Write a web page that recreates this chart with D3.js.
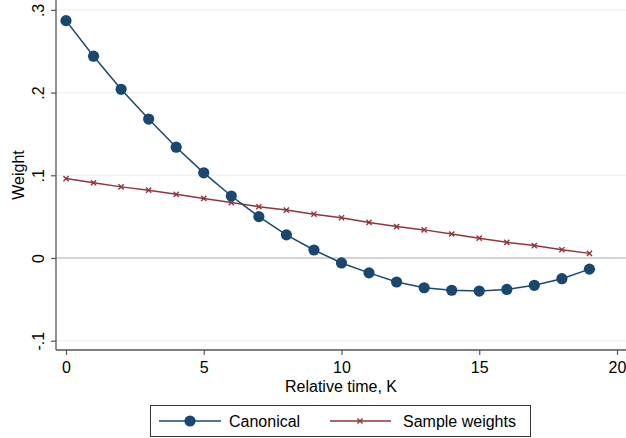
<!DOCTYPE html>
<html><head><meta charset="utf-8">
<script src="https://cdn.jsdelivr.net/npm/d3@7"></script>
<style>body{margin:0;background:#fff}svg{display:block}text{font-family:"Liberation Sans",Arial,sans-serif}</style>
</head><body>
<script>
const ks = [0,1,2,3,4,5,6,7,8,9,10,11,12,13,14,15,16,17,18,19];
const canonical = [0.287,0.244,0.204,0.168,0.134,0.103,0.075,0.050,0.028,0.0097,-0.006,-0.018,-0.029,-0.036,-0.039,-0.040,-0.038,-0.033,-0.025,-0.0135];
const sampleWeights = [0.096,0.091,0.086,0.082,0.077,0.072,0.067,0.062,0.058,0.053,0.0487,0.043,0.038,0.034,0.029,0.024,0.019,0.015,0.010,0.0056];
const xTicks = [0,5,10,15,20];
const yTicks = [-0.1,0,0.1,0.2,0.3];
const yTickLabels = ["-.1","0",".1",".2",".3"];
const seriesNames = ["Canonical","Sample weights"];
const colors = ["#1a476f","#90353b"];

(function(){
const W=626,H=438,FS=16;
const svg=d3.select("body").append("svg").attr("width",W).attr("height",H);
const pL=56,pR=626,pT=0,pB=350;
const x=d3.scaleLinear().domain([0,20]).range([66,617]);
const y=d3.scaleLinear().domain([0,0.1]).range([258,175.3]);

svg.append("g").selectAll("line").data(yTicks.filter(d=>d!==0)).join("line")
  .attr("x1",pL).attr("x2",pR).attr("y1",d=>y(d)).attr("y2",d=>y(d))
  .attr("stroke","#eaf2f3").attr("stroke-width",1.2);
svg.append("line").attr("x1",pL).attr("x2",pR).attr("y1",y(0)).attr("y2",y(0))
  .attr("stroke","#a8a8a8").attr("stroke-width",1.2);

const yAxis=d3.axisLeft(y).tickValues(yTicks).tickFormat((d,i)=>yTickLabels[i]).tickSize(5).tickSizeOuter(0);
const gy=svg.append("g").attr("transform",`translate(${pL},0)`).call(yAxis);
gy.select(".domain").attr("d",`M0,${pT}V${pB}`).attr("stroke","#555").attr("stroke-width",1.3);
gy.selectAll(".tick line").attr("stroke","#555").attr("stroke-width",1.2);
gy.selectAll(".tick text").attr("font-size",FS).attr("fill","#000").attr("text-anchor","middle")
  .attr("transform","translate(-18,0) rotate(-90)").attr("x",0).attr("y",0).attr("dy","0.35em");

const xAxis=d3.axisBottom(x).tickValues(xTicks).tickFormat(d3.format("d")).tickSize(5).tickSizeOuter(0);
const gx=svg.append("g").attr("transform",`translate(0,${pB})`).call(xAxis);
gx.select(".domain").attr("d",`M${pL},0H${pR}`).attr("stroke","#555").attr("stroke-width",1.3);
gx.selectAll(".tick line").attr("stroke","#555").attr("stroke-width",1.2);
gx.selectAll(".tick text").attr("font-size",FS).attr("fill","#000").attr("y",12).attr("dy","0.71em");

svg.append("text").attr("x",341).attr("y",392).attr("text-anchor","middle").attr("font-size",FS).text("Relative time, K");
svg.append("text").attr("transform","translate(24,175) rotate(-90)").attr("text-anchor","middle").attr("font-size",FS).text("Weight");

const line=d3.line().x((d,i)=>x(ks[i])).y(d=>y(d));
svg.append("path").datum(sampleWeights).attr("d",line).attr("fill","none").attr("stroke",colors[1]).attr("stroke-width",1.5);
const xm=(g,cx,cy,s)=>g.append("path").attr("d",`M${cx-s},${cy-s}L${cx+s},${cy+s}M${cx-s},${cy+s}L${cx+s},${cy-s}`).attr("stroke",colors[1]).attr("stroke-width",1.4).attr("fill","none");
const gs=svg.append("g");
sampleWeights.forEach((d,i)=>xm(gs,x(ks[i]),y(d),2.6));
svg.append("path").datum(canonical).attr("d",line).attr("fill","none").attr("stroke",colors[0]).attr("stroke-width",1.5);
svg.append("g").selectAll("circle").data(canonical).join("circle")
  .attr("cx",(d,i)=>x(ks[i])).attr("cy",d=>y(d)).attr("r",5.6).attr("fill",colors[0]);

const lg=svg.append("g");
lg.append("rect").attr("x",150.5).attr("y",405.5).attr("width",380).attr("height",31).attr("fill","#fff").attr("stroke","#333").attr("stroke-width",1);
const ly=421;
lg.append("line").attr("x1",159).attr("x2",221).attr("y1",ly).attr("y2",ly).attr("stroke",colors[0]).attr("stroke-width",1.5);
lg.append("circle").attr("cx",190).attr("cy",ly).attr("r",5.6).attr("fill",colors[0]);
lg.append("text").attr("x",229).attr("y",ly).attr("dy","0.36em").attr("font-size",FS).text(seriesNames[0]);
lg.append("line").attr("x1",330).attr("x2",391).attr("y1",ly).attr("y2",ly).attr("stroke",colors[1]).attr("stroke-width",1.5);
xm(lg,360,ly,2.6);
lg.append("text").attr("x",403).attr("y",ly).attr("dy","0.36em").attr("font-size",FS).text(seriesNames[1]);
})();
</script>
</body></html>
